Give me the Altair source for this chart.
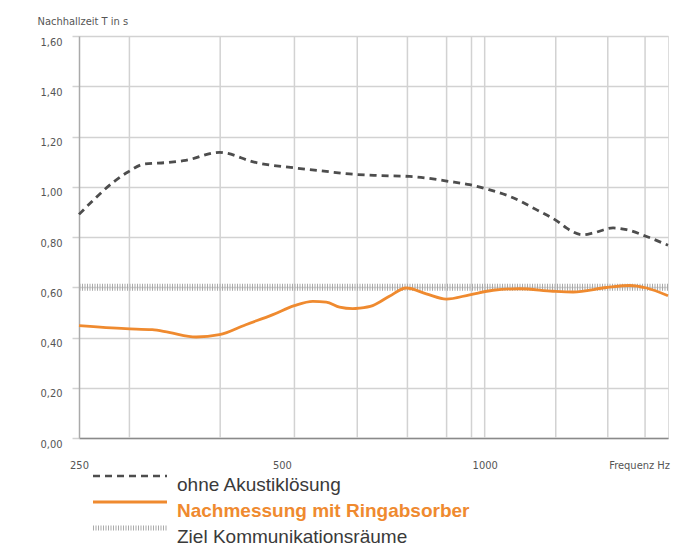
import altair as alt
import pandas as pd

FONT = "DejaVu Sans Condensed, Liberation Sans Narrow, DejaVu Sans, sans-serif"
LFONT = "Liberation Sans, Arial, sans-serif"

x_labels = [250, 500, 1000]
grid_freqs = [297, 405, 522, 647, 768, 878, 956, 1000, 1275, 1523, 1730]
y_ticks = [0.0, 0.2, 0.4, 0.6, 0.8, 1.0, 1.2, 1.4, 1.6]

freq_ohne = [250, 296, 312, 340, 360, 404, 413, 452, 522, 582, 630, 690, 774,
             887, 950, 1006, 1089, 1193, 1293, 1322, 1400, 1449, 1551, 1624, 1739, 1871]
t_ohne = [0.89, 1.06, 1.09, 1.097, 1.105, 1.137, 1.134, 1.10, 1.075, 1.061, 1.051,
          1.045, 1.041, 1.021, 1.008, 0.991, 0.962, 0.909, 0.856, 0.836, 0.809,
          0.816, 0.836, 0.829, 0.802, 0.767]

freq_ring = [250, 293, 321, 340, 373, 404, 442, 485, 522, 556, 582, 609, 637, 652,
             682, 722, 765, 819, 877, 950, 1029, 1127, 1263, 1353, 1517, 1643, 1739, 1871]
t_ring = [0.447, 0.435, 0.431, 0.420, 0.402, 0.411, 0.451, 0.491, 0.527, 0.544,
          0.541, 0.521, 0.515, 0.517, 0.527, 0.564, 0.597, 0.574, 0.553, 0.570,
          0.588, 0.594, 0.584, 0.581, 0.599, 0.607, 0.597, 0.566]

target = 0.60
legend_labels = ["ohne Akustiklösung", "Nachmessung mit Ringabsorber", "Ziel Kommunikationsräume"]
x_title = "Frequenz Hz"
y_title = "Nachhallzeit T in s"

W, H = 589, 402
ORANGE = "#ef8a2f"
GRID = "#d2d2d2"

xs = alt.Scale(type="log", domain=[250, 1871], nice=False)
ys = alt.Scale(domain=[0, 1.6], nice=False)

x_axis = alt.Axis(values=x_labels, format="d", title=None, grid=False, ticks=False,
                  labelPadding=21, labelFontSize=11, labelColor="#555", labelFont=FONT,
                  domainColor="#8a8a8a", domainWidth=1.5, labelFlush=False)
y_axis = alt.Axis(values=y_ticks, labelExpr="replace(format(datum.value, '.2f'), '.', ',')",
                  grid=True, gridColor=GRID, gridWidth=1.5, tickSize=7, tickColor=GRID,
                  tickWidth=1.5, domainColor="#aaaaaa", domainWidth=1.5, labelPadding=10,
                  labelOffset=6, labelFontSize=11, labelColor="#555", labelFont=FONT,
                  title=y_title, titleAngle=0, titleAlign="left", titleBaseline="middle",
                  titleX=-42, titleY=-15, titleFontWeight="normal", titleFontSize=11,
                  titleColor="#555", titleFont=FONT)

x_enc = alt.X("f:Q", scale=xs, axis=x_axis)
y_enc = alt.Y("t:Q", scale=ys, axis=y_axis)

df_ohne = pd.DataFrame({"f": freq_ohne, "t": t_ohne})
df_ring = pd.DataFrame({"f": freq_ring, "t": t_ring})

grid = alt.Chart(pd.DataFrame({"f": grid_freqs})).mark_rule(
    color=GRID, strokeWidth=1.5).encode(x=x_enc, y=alt.value(0), y2=alt.value(H))

ohne = alt.Chart(df_ohne).mark_line(
    color="#4d4d4d", strokeWidth=2.8, strokeDash=[7, 5], interpolate="monotone"
).encode(x=x_enc, y=y_enc)

target_rule = alt.Chart(pd.DataFrame({"t": [target]})).mark_rule(
    color="#a9a9a9", strokeWidth=7, strokeDash=[1, 1.5]).encode(y=y_enc)

ring = alt.Chart(df_ring).mark_line(
    color=ORANGE, strokeWidth=2.8, interpolate="monotone").encode(x=x_enc, y=y_enc)

one = pd.DataFrame({"a": [0]})
x_text = alt.Chart(one).mark_text(align="right", baseline="middle", fontSize=11,
                                  color="#555", font=FONT).encode(
    x=alt.value(W + 2), y=alt.value(H + 28), text=alt.value(x_title))

leg1 = alt.Chart(one).mark_rule(color="#4d4d4d", strokeWidth=2.5, strokeDash=[7, 5]).encode(
    x=alt.value(14), x2=alt.value(88), y=alt.value(440))
leg2 = alt.Chart(one).mark_rule(color=ORANGE, strokeWidth=3).encode(
    x=alt.value(14), x2=alt.value(88), y=alt.value(466))
leg3 = alt.Chart(one).mark_rule(color="#a9a9a9", strokeWidth=5, strokeDash=[1, 1.5]).encode(
    x=alt.value(14), x2=alt.value(88), y=alt.value(492))

txt1 = alt.Chart(one).mark_text(align="left", baseline="alphabetic", fontSize=19,
                                color="#3a3a3a", font=LFONT).encode(
    x=alt.value(98), y=alt.value(455), text=alt.value(legend_labels[0]))
txt2 = alt.Chart(one).mark_text(align="left", baseline="alphabetic", fontSize=19,
                                fontWeight="bold", color=ORANGE, font=LFONT).encode(
    x=alt.value(98), y=alt.value(481), text=alt.value(legend_labels[1]))
txt3 = alt.Chart(one).mark_text(align="left", baseline="alphabetic", fontSize=19,
                                color="#3a3a3a", font=LFONT).encode(
    x=alt.value(98), y=alt.value(507), text=alt.value(legend_labels[2]))

chart = alt.layer(grid, ohne, target_rule, ring, x_text, leg1, leg2, leg3, txt1, txt2, txt3).properties(
    width=W, height=H,
    autosize=alt.AutoSizeParams(type="none"),
    padding={"left": 71, "top": 28, "right": 18, "bottom": 112},
).configure_view(stroke=GRID, strokeWidth=1.5).configure(background="white")

chart.save("out.html", embed_options={"renderer": "svg", "actions": False})
